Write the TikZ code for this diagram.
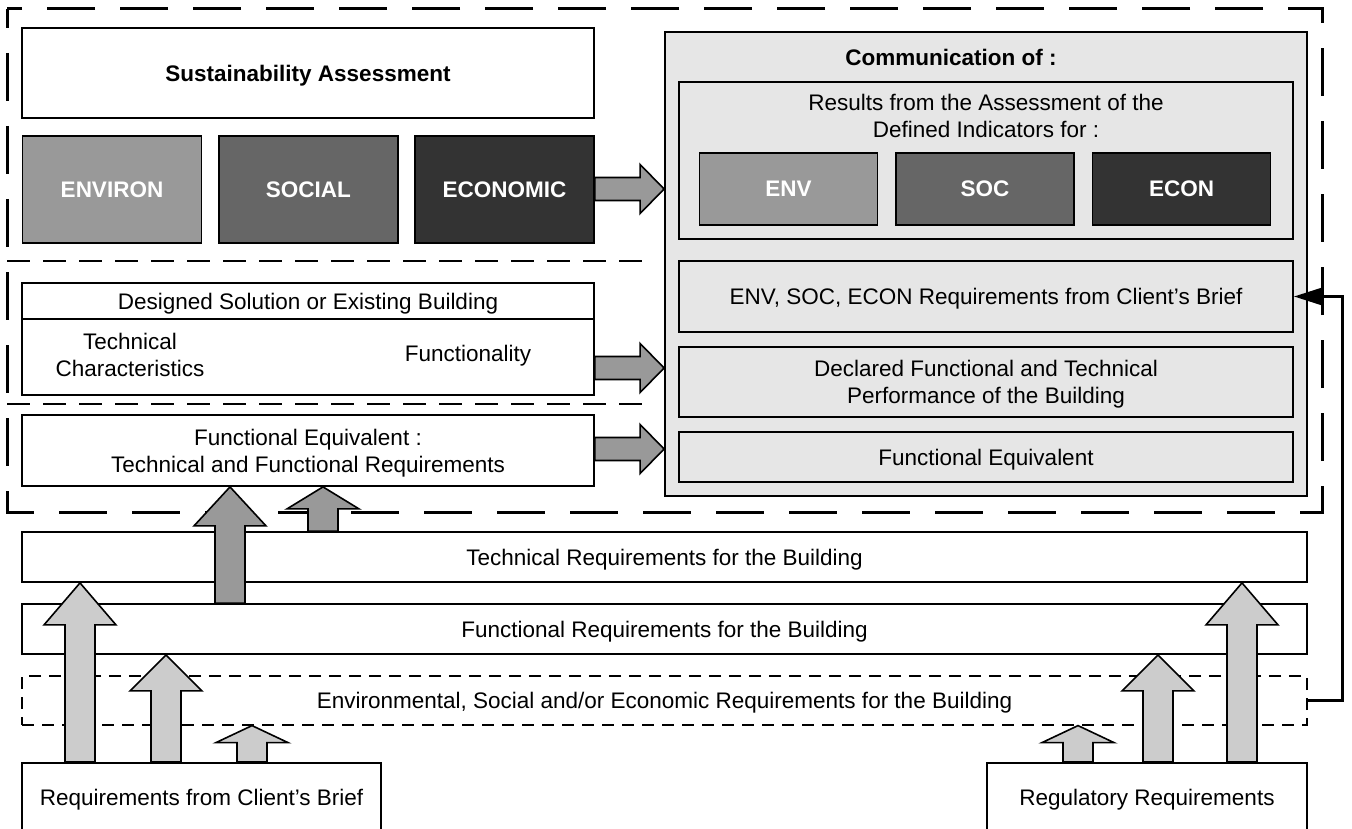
\documentclass[tikz,border=0pt]{standalone}
\usepackage{fontspec}
\setmainfont{Liberation Sans}
\usetikzlibrary{calc,arrows.meta}

\definecolor{grayenv}{HTML}{999999}
\definecolor{graysoc}{HTML}{666666}
\definecolor{grayeco}{HTML}{333333}
\definecolor{graycomm}{HTML}{E6E6E6}
\definecolor{graylight}{HTML}{CCCCCC}
\definecolor{grayarrow}{HTML}{999999}

\newcommand{\diagfont}{\fontsize{22.5}{27}\selectfont}

% #1 x, #2 base node, #3 target node, #4 head length, #5 fill
\newcommand{\blockup}[5]{%
  \draw[blockarrow,fill=#5] let \p1=(#2.north), \p2=(#3.south) in
    (#1pt-15pt,\y1) -- (#1pt-15pt,\y2-#4pt) -- (#1pt-36pt,\y2-#4pt) -- (#1pt,\y2)
    -- (#1pt+36pt,\y2-#4pt) -- (#1pt+15pt,\y2-#4pt) -- (#1pt+15pt,\y1) -- cycle;}
% #1 y, #2 source node, #3 target node, #4 fill
\newcommand{\blockright}[4]{%
  \draw[blockarrow,fill=#4] let \p1=(#2.east), \p2=(#3.west) in
    (\x1,-#1pt+11.5pt) -- (\x2-24pt,-#1pt+11.5pt) -- (\x2-24pt,-#1pt+24.5pt) -- (\x2,-#1pt)
    -- (\x2-24pt,-#1pt-24.5pt) -- (\x2-24pt,-#1pt-11.5pt) -- (\x1,-#1pt-11.5pt) -- cycle;}

\begin{document}
\begin{tikzpicture}[x=1pt,y=-1pt,font=\diagfont,
    every node/.append style={text depth=0pt},
    box/.style={draw,line width=1.8pt,fill=white,inner sep=0pt,align=center},
    pillar/.style={box,minimum width=179pt,minimum height=107pt,text=white,font=\diagfont\bfseries},
    blockarrow/.style={draw,line width=1.6pt,line join=miter},
    outerdash/.style={line width=3pt,dash pattern=on 48pt off 25pt},
    innerdash/.style={line width=2.7pt,dash pattern=on 23pt off 13pt}]
  \fill[white] (0,0) rectangle (1352,829);
  \useasboundingbox (0,0) rectangle (1352,829);

  \draw[outerdash,dash phase=29pt] (7,9) rectangle (1322,512);
  \draw[innerdash] (7,261) -- (650,261);
  \draw[innerdash] (7,404) -- (650,404);

  \node[box,minimum width=572pt,minimum height=90pt,font=\diagfont\bfseries] (sa) at (308,73) {Sustainability Assessment};
  \foreach \n/\lab/\col [count=\i from 0] in {env/ENVIRON/grayenv,soc/SOCIAL/graysoc,eco/ECONOMIC/grayeco}
    \node[pillar,fill=\col] (\n) at ({112+196.25*\i},189.5) {\lab};

  \node[box,fill=graycomm,minimum width=642pt,minimum height=464pt] (comm) at (986,264) {};
  \node[font=\diagfont\bfseries] (commtitle) at (951,57) {Communication of :};
  \node[box,fill=graycomm,minimum width=614pt,minimum height=157pt] (results) at (986,160.5) {};
  \node[align=center] (resultstext) at (986,115.5) {Results from the Assessment of the\\Defined Indicators for :};
  \foreach \n/\lab/\col [count=\i from 0] in {ienv/ENV/grayenv,isoc/SOC/graysoc,ieco/ECON/grayeco}
    \node[pillar,fill=\col,minimum width=178pt,minimum height=72pt] (\n) at ({788.5+196.5*\i},189) {\lab};
  \node[box,fill=graycomm,minimum width=614pt,minimum height=71pt] (briefreq) at (986,296.5) {ENV, SOC, ECON Requirements from Client’s Brief};
  \node[box,fill=graycomm,minimum width=614pt,minimum height=70pt] (declared) at (986,382) {Declared Functional and Technical\\Performance of the Building};
  \node[box,fill=graycomm,minimum width=614pt,minimum height=50pt] (feqright) at (986,457) {Functional Equivalent};

  \node[box,minimum width=572pt,minimum height=112pt] (design) at (308,339) {};
  \draw[line width=1.8pt] ($(design.north west)+(0,-37pt)$) -- ($(design.north east)+(0,-37pt)$);
  \node (designtitle) at (308,301) {Designed Solution or Existing Building};
  \node[align=center] (techchar) at (130,354.5) {Technical\\Characteristics};
  \node (functy) at (468,353) {Functionality};
  \node[box,minimum width=572pt,minimum height=71pt] (feqleft) at (308,450.5) {Functional Equivalent :\\Technical and Functional Requirements};

  \node[box,minimum width=1285pt,minimum height=50pt] (techreq) at (664.5,557) {Technical Requirements for the Building};
  \node[box,minimum width=1285pt,minimum height=50pt] (funcreq) at (664.5,629) {Functional Requirements for the Building};
  \node[box,line width=1.2pt,dash pattern=on 12pt off 8pt,minimum width=1285pt,minimum height=49pt] (esereq) at (664.5,700.5) {Environmental, Social and/or Economic Requirements for the Building};
  \node[box,anchor=north,minimum width=359pt,minimum height=100pt] (client) at (201.5,762) {};
  \node (clienttext) at (201.5,797) {Requirements from Client’s Brief};
  \node[box,anchor=north,minimum width=320pt,minimum height=100pt] (regul) at (1147,762) {};
  \node (regultext) at (1147,797) {Regulatory Requirements};

  \blockright{189}{eco}{comm}{grayarrow}
  \blockright{368}{design}{comm}{grayarrow}
  \blockright{449}{feqleft}{comm}{grayarrow}
  \blockup{230}{funcreq}{feqleft}{39}{grayarrow}
  \blockup{323}{techreq}{feqleft}{22}{grayarrow}
  \foreach \xa/\tgt/\hl in {80/techreq/42,166/funcreq/36,252/esereq/17}
    {\blockup{\xa}{client}{\tgt}{\hl}{graylight}}
  \foreach \xa/\tgt/\hl in {1078/esereq/17,1158/funcreq/36,1242/techreq/42}
    {\blockup{\xa}{regul}{\tgt}{\hl}{graylight}}

  \draw[line width=3pt,-{Triangle[length=28pt,width=17pt]}] (esereq.east) -- ++(35pt,0) |- (briefreq.east);
\end{tikzpicture}
\end{document}
